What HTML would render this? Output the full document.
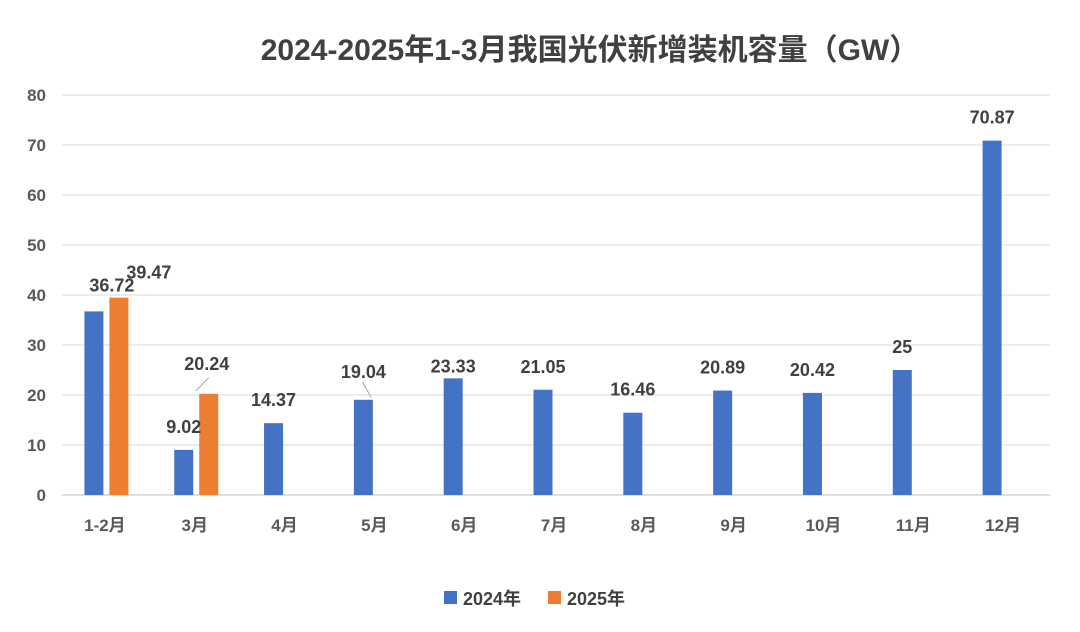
<!DOCTYPE html>
<html><head><meta charset="utf-8">
<style>
body{margin:0;background:#fff;}
svg{display:block;font-family:"Liberation Sans","Noto Sans CJK SC",sans-serif;}
</style></head>
<body>
<svg id="chart" width="1080" height="632" viewBox="0 0 1080 632">
<rect width="1080" height="632" fill="#fff"/>
<text x="590" y="60" text-anchor="middle" font-size="30" font-weight="bold" fill="#404040">2024-2025年1-3月我国光伏新增装机容量（GW）</text>
<g id="grid"></g><g id="bars"></g><g id="labels"></g>
<g>
<rect x="444" y="591" width="13" height="13" fill="#4472c4"/>
<text x="463" y="605" font-size="18" font-weight="bold" fill="#404040">2024年</text>
<rect x="548" y="591" width="13" height="13" fill="#ed7d31"/>
<text x="567" y="605" font-size="18" font-weight="bold" fill="#404040">2025年</text>
</g>
</svg>
<script>
const categories=["1-2月","3月","4月","5月","6月","7月","8月","9月","10月","11月","12月"];
const s2024=[36.72,9.02,14.37,19.04,23.33,21.05,16.46,20.89,20.42,25,70.87];
const s2025=[39.47,20.24];
const yTicks=[0,10,20,30,40,50,60,70,80];
const NS="http://www.w3.org/2000/svg";
const x0=62,x1=1050,yBase=495,yTop=95,yMax=80;
const bw=(x1-x0)/categories.length;
const xc=i=>x0+bw*(i+0.5);
const y=v=>yBase-(v/yMax)*(yBase-yTop);
function mk(tag,attrs,parent,text){const e=document.createElementNS(NS,tag);for(const k in attrs)e.setAttribute(k,attrs[k]);if(text!==undefined)e.textContent=text;document.getElementById(parent).appendChild(e);return e;}
yTicks.forEach(t=>{
 const l=mk('line',{x1:x0,x2:x1,y1:y(t),y2:y(t),stroke:t===0?'#bfbfbf':'#d9d9d9','stroke-width':1},'grid');
 
 
 const tx=mk('text',{x:46,y:y(t)+6,'text-anchor':'end','font-size':17,'font-weight':'bold',fill:'#595959'},'grid',String(t));
 
 
});
categories.forEach((c,i)=>{
 const tx=mk('text',{x:xc(i)-2,y:531,'text-anchor':'middle','font-size':17,'font-weight':'bold',fill:'#595959'},'grid',c);
 
 
});
function lbl(v,cx,top,name){
 const t=mk('text',{x:cx,y:top-17,'text-anchor':'middle','font-size':18,'font-weight':'bold',fill:'#404040'},'labels',String(v));
 
 
 return t;
}
s2024.forEach((v,i)=>{
 const cx=xc(i)-13;
 const r=mk('rect',{x:cx-9.5,y:y(v),width:19,height:yBase-y(v),fill:'#4472c4'},'bars');
 
 
 const t=lbl(v,cx,y(v),'label-2024-'+categories[i]);
 if(i===0){t.setAttribute('x',cx+18);t.setAttribute('y',y(v)-20);}
 if(i===4){t.setAttribute('y',y(v)-6);}
 if(i===3){t.setAttribute('y',y(v)-22);
  const ln=mk('line',{x1:cx-1,y1:y(v)-18,x2:cx+8,y2:y(v)-2,stroke:'#a6a6a6','stroke-width':1},'labels');
  
  }
});
s2025.forEach((v,i)=>{
 const cx=xc(i)+12;
 const r=mk('rect',{x:cx-9.5,y:y(v),width:19,height:yBase-y(v),fill:'#ed7d31'},'bars');
 
 
 const t=lbl(v,cx,y(v),'label-2025-'+categories[i]);
 if(i===0){t.setAttribute('x',cx+30);t.setAttribute('y',y(v)-19);}
 if(i===1){t.setAttribute('x',cx-2);t.setAttribute('y',y(v)-24);
  const ln=mk('line',{x1:cx-13,y1:y(v)-3,x2:cx,y2:y(v)-16,stroke:'#a6a6a6','stroke-width':1},'labels');
  
  }
});
</script>
</body></html>
